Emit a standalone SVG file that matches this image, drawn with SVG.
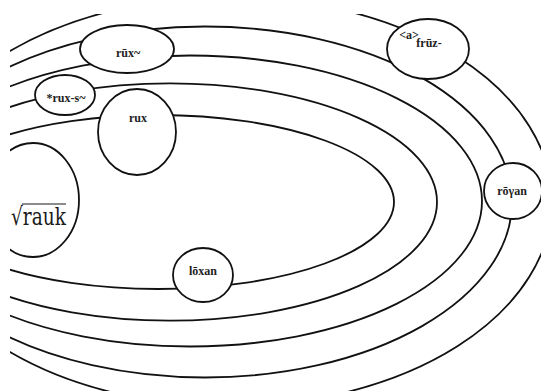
<svg xmlns="http://www.w3.org/2000/svg" width="541" height="391" viewBox="0 0 541 391">
<style>
.arc{fill:none;stroke:#111;stroke-width:1.8}
.node{fill:#fff;stroke:#111;stroke-width:1.8}
.lbl{font-family:"Liberation Serif","Times New Roman",serif;font-weight:bold;font-size:12px;fill:#222;text-anchor:middle}
</style>
<defs>
<clipPath id="frame"><rect x="10" y="14" width="531" height="377"/></clipPath>
</defs>
<rect width="541" height="391" fill="#fff"/>
<g id="connectors" clip-path="url(#frame)">
<ellipse class="arc" cx="158" cy="202" rx="236" ry="87"/>
<ellipse class="arc" cx="170" cy="202" rx="267" ry="118.7"/>
<ellipse class="arc" cx="190" cy="201" rx="292" ry="145.5"/>
<ellipse class="arc" cx="205" cy="202" rx="307" ry="175.5"/>
<ellipse class="arc" cx="229" cy="201.5" rx="323" ry="204.7"/>
</g>
<g id="rauk">
<ellipse class="node" cx="33" cy="200" rx="46" ry="57" clip-path="url(#frame)"/>
<text x="11" y="225" font-family="'DejaVu Serif',serif" font-size="25" fill="#1a1a1a" textLength="55" lengthAdjust="spacingAndGlyphs">√rauk</text>
<line x1="22" y1="204" x2="66" y2="204" stroke="#1a1a1a" stroke-width="1.2"/>
</g>
<g id="rux-tilde">
<ellipse class="node" cx="127" cy="49" rx="47" ry="24"/>
<text class="lbl" x="128" y="57">rūx~</text>
</g>
<g id="rux-s">
<ellipse class="node" cx="65" cy="95" rx="30" ry="20"/>
<text class="lbl" x="66" y="102">*rux-s~</text>
</g>
<g id="rux">
<ellipse class="node" cx="137" cy="132" rx="39" ry="43"/>
<text class="lbl" x="138" y="122">rux</text>
</g>
<g id="fruz">
<ellipse class="node" cx="428" cy="49" rx="41" ry="30"/>
<text class="lbl" x="409" y="39" font-size="10">&lt;a&gt;</text>
<text class="lbl" x="429" y="47">frūz-</text>
</g>
<g id="royan">
<ellipse class="node" cx="513" cy="191" rx="29" ry="28"/>
<text class="lbl" x="512" y="195">rōγan</text>
</g>
<g id="loxan">
<ellipse class="node" cx="203" cy="275" rx="30" ry="27"/>
<text class="lbl" x="203" y="275">lōxan</text>
</g>
</svg>
